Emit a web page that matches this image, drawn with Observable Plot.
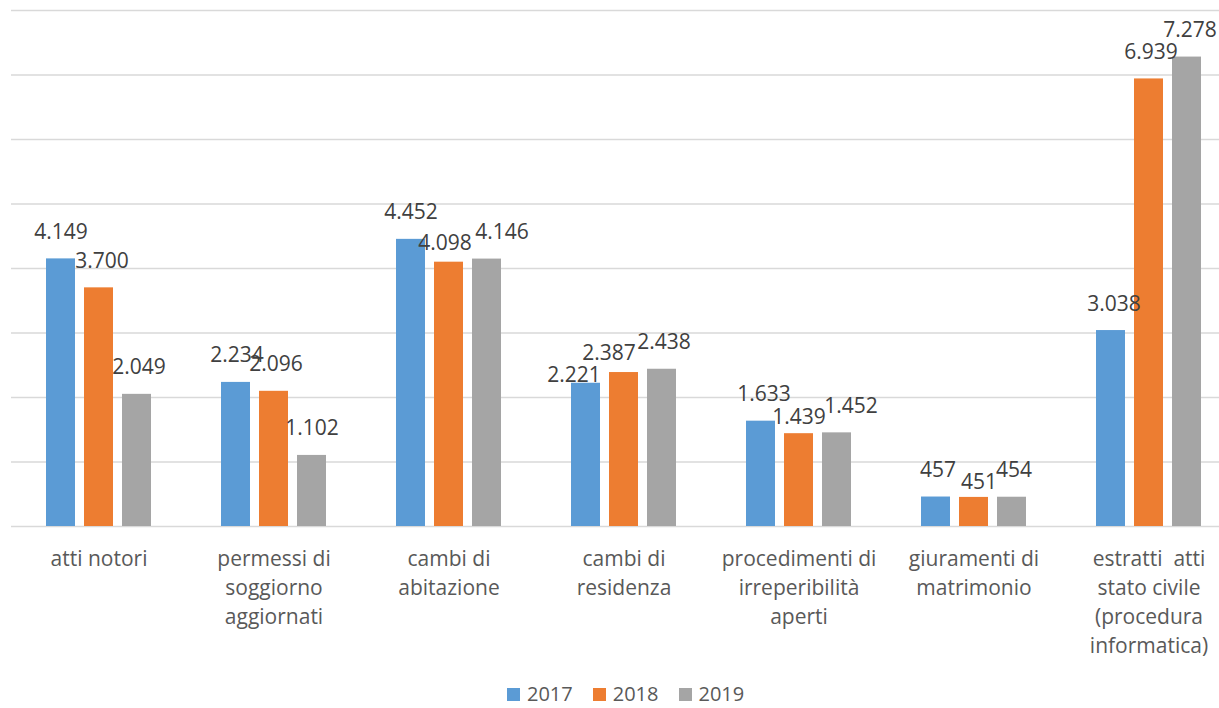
<!DOCTYPE html>
<html>
<head>
<meta charset="utf-8">
<script src="https://cdn.jsdelivr.net/npm/d3@7"></script>
<script src="https://cdn.jsdelivr.net/npm/@observablehq/plot@0.6"></script>
<style>
  html, body { margin: 0; padding: 0; background: #fff; overflow: hidden; }
  #wrap { position: relative; width: 1219px; height: 708px; overflow: hidden; font-family: "Open Sans", sans-serif; }
  #chart svg { max-width: none !important; }
  #legend { position: absolute; left: 507px; top: 684px; height: 20px; display: flex; align-items: center; line-height: 20px; }
  .lg-swatches { font-family: "Open Sans", sans-serif !important; font-size: 20px !important; line-height: 20px !important; color: #595959 !important; min-height: 0 !important; margin: 0 !important; display: flex !important; align-items: center; }
  .lg-swatch { margin-right: 20px !important; display: inline-flex !important; align-items: center; line-height: 20px !important; }
  .lg-swatch > svg { margin-right: 7px !important; }
  svg text { white-space: pre; }
</style>
</head>
<body>
<div id="wrap"><div id="chart"></div><div id="legend"></div></div>
<script>
const categories = [
  "atti notori",
  "permessi di\nsoggiorno\naggiornati",
  "cambi di\nabitazione",
  "cambi di\nresidenza",
  "procedimenti di\nirreperibilità\naperti",
  "giuramenti di\nmatrimonio",
  "estratti  atti\nstato civile\n(procedura\ninformatica)"
];
const years = ["2017", "2018", "2019"];
const values2017 = [4149, 2234, 4452, 2221, 1633, 457, 3038];
const values2018 = [3700, 2096, 4098, 2387, 1439, 451, 6939];
const values2019 = [2049, 1102, 4146, 2438, 1452, 454, 7278];
const colors = ["#5B9BD5", "#ED7D31", "#A5A5A5"];
const yTicks = [0, 1000, 2000, 3000, 4000, 5000, 6000, 7000, 8000];

// layout only: pixel nudges of value labels (Excel-style collision avoidance), [dx, dy] per category
const nudge2017 = [[0, 0], [1, 0], [0, 0], [-12, 19], [3, 0], [2, 0], [3, 0]];
const nudge2018 = [[3, 0], [2, 0], [-4, 8], [-15, 7], [0, 10], [5, 12], [2, 0]];
const nudge2019 = [[2, 0], [0, 0], [15, 0], [2, 0], [14, 0], [2, 0], [3, 0]];

const series = [values2017, values2018, values2019];
const nudges = [nudge2017, nudge2018, nudge2019];
const data = [];
categories.forEach((c, i) => {
  years.forEach((y, j) => data.push({category: c, year: y, value: series[j][i], nudge: nudges[j][i]}));
});

const it = d3.formatLocale({decimal: ",", thousands: ".", grouping: [3], currency: ["€", ""]});
const fmt = it.format(",d");

const labelMarks = data.map(d => Plot.text([d], {
  fx: "category", x: "year", y: "value", text: e => fmt(e.value),
  lineAnchor: "bottom", dx: d.nudge[0], dy: -20 + d.nudge[1], fontSize: 21, fill: "#404040"
}));

const chart = Plot.plot({
  width: 1237,
  height: 672,
  marginTop: 10,
  marginBottom: 146,
  marginLeft: 10,
  marginRight: 0,
  style: {fontFamily: "Open Sans, sans-serif", background: "#fff", overflow: "visible", maxWidth: "none"},
  fx: {domain: categories, paddingInner: 0, paddingOuter: 0, label: null},
  x: {domain: years, paddingInner: 0.23, paddingOuter: 0.86, axis: null},
  y: {domain: [0, 8000], axis: null},
  color: {domain: years, range: colors},
  marks: [
    Plot.ruleY(yTicks, {stroke: "#d9d9d9", strokeWidth: 1.5}),
    Plot.barY(data, {fx: "category", x: "year", y: "value", fill: "year"}),
    ...labelMarks,
    Plot.axisFx({anchor: "bottom", tickSize: 0, tickPadding: 19, fontSize: 21,
      lineAnchor: "top", lineHeight: 1.38, fill: "#595959", label: null})
  ]
});
document.getElementById("chart").appendChild(chart);

const lg = Plot.legend({color: {domain: years, range: colors}, legend: "swatches",
  swatchSize: 13, className: "lg"});
document.getElementById("legend").appendChild(lg);
</script>
</body>
</html>
